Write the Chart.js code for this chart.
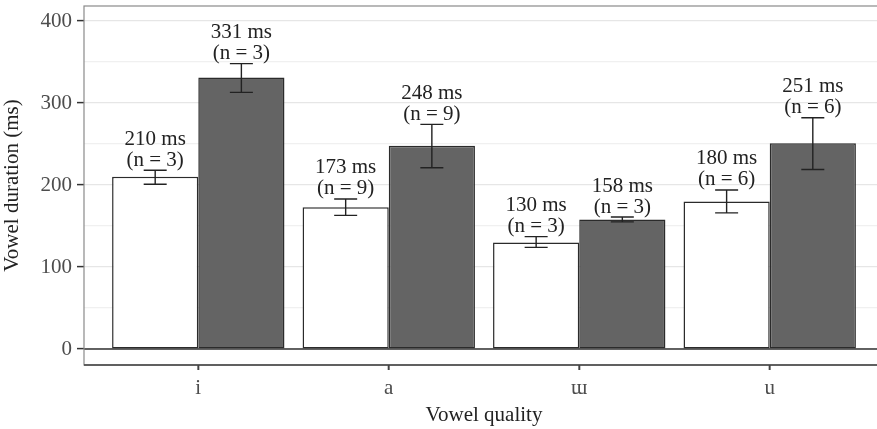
<!DOCTYPE html>
<html>
<head>
<meta charset="utf-8">
<script src="https://cdn.jsdelivr.net/npm/chart.js@4.4.1/dist/chart.umd.min.js"></script>
<style>
  html, body { margin: 0; padding: 0; background: #fff; overflow: hidden; }
  #wrap { position: relative; width: 900px; height: 429px; }
</style>
</head>
<body>
<div id="wrap"><canvas id="chart"></canvas></div>
<script>
// Data
const vowels = ['i', 'a', 'ɯ', 'u'];
const shortMeans = [210, 173, 130, 180];
const shortLow = [201, 163, 124, 166];
const shortHigh = [218, 183, 137, 194];
const shortN = [3, 9, 3, 6];
const longMeans = [331, 248, 158, 251];
const longLow = [313, 221, 155, 219];
const longHigh = [348, 274, 161, 282];
const longN = [3, 9, 3, 6];
const yTicks = [0, 50, 100, 150, 200, 250, 300, 350, 400];

const serif = "'Liberation Serif', 'DejaVu Serif', serif";
const ink = '#222';

const errors = [
    { low: shortLow, high: shortHigh, mean: shortMeans, n: shortN },
    { low: longLow, high: longHigh, mean: longMeans, n: longN }
];

// Panel border, zero line, error bars and the labels above them
const extras = {
    id: 'extras',
    beforeDatasetsDraw(chart) {
        const { ctx, chartArea: a, scales: { y } } = chart;
        const y0 = y.getPixelForValue(0);
        ctx.save();
        ctx.strokeStyle = '#333';
        ctx.lineWidth = 1.6;
        ctx.beginPath();
        ctx.moveTo(a.left, y0);
        ctx.lineTo(a.right, y0);
        ctx.stroke();
        ctx.restore();
    },
    afterDatasetsDraw(chart) {
        const { ctx, chartArea: a, scales: { x, y } } = chart;
        ctx.save();
        errors.forEach((e, di) => {
            const meta = chart.getDatasetMeta(di);
            meta.data.forEach((bar, i) => {
                const top = y.getPixelForValue(e.high[i]);
                const bot = y.getPixelForValue(e.low[i]);
                const half = 11.5;
                ctx.strokeStyle = '#222';
                ctx.lineWidth = 1.4;
                ctx.beginPath();
                ctx.moveTo(bar.x, top);
                ctx.lineTo(bar.x, bot);
                ctx.moveTo(bar.x - half, top);
                ctx.lineTo(bar.x + half, top);
                ctx.moveTo(bar.x - half, bot);
                ctx.lineTo(bar.x + half, bot);
                ctx.stroke();

                ctx.fillStyle = ink;
                ctx.font = '21px ' + serif;
                ctx.textAlign = 'center';
                ctx.textBaseline = 'middle';
                ctx.fillText(e.mean[i] + ' ms', bar.x, top - 31);
                ctx.fillText('(n = ' + e.n[i] + ')', bar.x, top - 10);
            });
        });

        // panel border
        ctx.strokeStyle = '#8a8a8a';
        ctx.lineWidth = 1.2;
        ctx.strokeRect(a.left, a.top, a.right - a.left, a.bottom - a.top);
        ctx.strokeStyle = '#444';
        ctx.lineWidth = 1.6;
        ctx.beginPath();
        ctx.moveTo(a.left, a.bottom);
        ctx.lineTo(a.right, a.bottom);
        // x tick marks under each vowel
        vowels.forEach((v, i) => {
            const px = x.getPixelForValue(i);
            ctx.moveTo(px, a.bottom);
            ctx.lineTo(px, a.bottom + 5);
        });
        ctx.stroke();
        ctx.restore();
    }
};

const ctx = document.getElementById('chart').getContext('2d');
new Chart(ctx, {
    type: 'bar',
    data: {
        datasets: [
            {
                label: 'short',
                data: shortMeans.map((v, i) => ({ x: i, y: v })),
                backgroundColor: '#ffffff',
                borderColor: '#2b2b2b',
                borderWidth: 1.5,
                borderSkipped: false
            },
            {
                label: 'long',
                data: longMeans.map((v, i) => ({ x: i, y: v })),
                backgroundColor: '#646464',
                borderColor: '#2b2b2b',
                borderWidth: 1.5,
                borderSkipped: false
            }
        ]
    },
    options: {
        responsive: true,
        maintainAspectRatio: false,
        animation: false,
        categoryPercentage: 0.905,
        barPercentage: 1,
        layout: { padding: { top: 6, right: 16, left: 0, bottom: 0 } },
        plugins: {
            legend: { display: false },
            tooltip: { enabled: false }
        },
        scales: {
            x: {
                type: 'linear',
                min: -0.6,
                max: 3.6,
                offset: false,
                afterBuildTicks: (s) => { s.ticks = vowels.map((v, i) => ({ value: i })); },
                afterFit: (s) => {
                    s.height = 64;
                    s.paddingLeft = 0;
                    s.paddingRight = 0;
                },
                border: { display: false },
                grid: {
                    offset: false,
                    drawOnChartArea: false,
                    drawTicks: true,
                    tickLength: 5,
                    tickColor: '#333',
                    tickWidth: 1.5
                },
                ticks: {
                    autoSkip: false,
                    maxRotation: 0,
                    padding: 6,
                    color: '#4d4d4d',
                    font: { family: serif, size: 21 },
                    callback: (v) => vowels[v] ?? ''
                },
                title: {
                    display: true,
                    text: 'Vowel quality',
                    color: ink,
                    font: { family: serif, size: 21 },
                    padding: { top: 0, bottom: 1 }
                }
            },
            y: {
                min: -19.5,
                max: 418.3,
                afterBuildTicks: (s) => { s.ticks = yTicks.map(v => ({ value: v })); },
                afterFit: (s) => {
                    s.width = 84;
                    s.paddingTop = 0;
                    s.paddingBottom = 0;
                },
                border: { display: false },
                grid: {
                    color: (c) => c.tick && c.tick.value % 100 === 0 ? '#e6e6e6' : '#f0f0f0',
                    lineWidth: 1.2,
                    drawTicks: true,
                    tickLength: 7,
                    tickColor: (c) => c.tick && c.tick.value % 100 === 0 ? '#333' : 'rgba(0,0,0,0)',
                    tickWidth: 1.5
                },
                ticks: {
                    padding: 5,
                    color: '#4d4d4d',
                    font: { family: serif, size: 21 },
                    callback: (v) => v % 100 === 0 ? v : ''
                },
                title: {
                    display: true,
                    text: 'Vowel duration (ms)',
                    color: ink,
                    font: { family: serif, size: 21 },
                    padding: { top: 0, bottom: 0 }
                }
            }
        }
    },
    plugins: [extras]
});
</script>
</body>
</html>
